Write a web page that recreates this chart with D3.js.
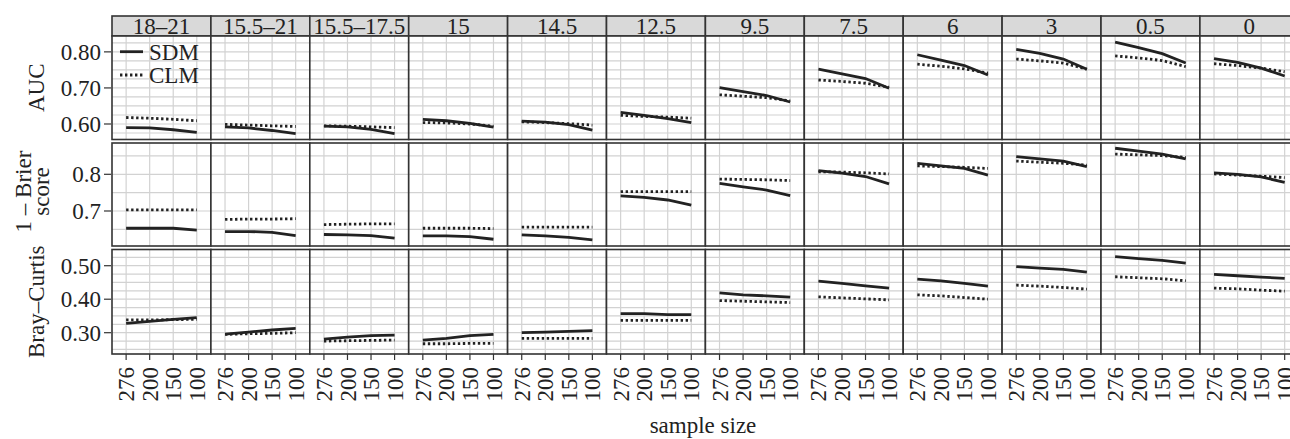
<!DOCTYPE html>
<html>
<head>
<meta charset="utf-8">
<script src="https://cdn.jsdelivr.net/npm/d3@7"></script>
<style>
body { margin: 0; background: #fff; }
svg { display: block; font-family: "Liberation Serif", "DejaVu Serif", serif; }
</style>
</head>
<body>
<div id="main_div"></div>
<script>
var facets = ["18\u201321", "15.5\u201321", "15.5\u201317.5", "15", "14.5", "12.5", "9.5", "7.5", "6", "3", "0.5", "0"];
var sizes = ["276", "200", "150", "100"];
var models = ["SDM", "CLM"];

var auc_sdm = [
    [0.590, 0.589, 0.584, 0.577], [0.592, 0.589, 0.582, 0.573], [0.594, 0.592, 0.585, 0.573],
    [0.613, 0.609, 0.602, 0.591], [0.608, 0.605, 0.598, 0.583], [0.632, 0.624, 0.615, 0.604],
    [0.701, 0.690, 0.679, 0.661], [0.752, 0.739, 0.726, 0.699], [0.792, 0.777, 0.762, 0.736],
    [0.807, 0.796, 0.780, 0.752], [0.827, 0.812, 0.795, 0.769], [0.781, 0.771, 0.755, 0.733]
];
var auc_clm = [
    [0.618, 0.616, 0.613, 0.609], [0.599, 0.597, 0.595, 0.593], [0.595, 0.594, 0.592, 0.590],
    [0.604, 0.603, 0.600, 0.594], [0.606, 0.604, 0.601, 0.597], [0.624, 0.621, 0.619, 0.616],
    [0.681, 0.677, 0.673, 0.664], [0.722, 0.718, 0.713, 0.702], [0.766, 0.760, 0.753, 0.741],
    [0.780, 0.775, 0.769, 0.752], [0.789, 0.783, 0.776, 0.759], [0.767, 0.762, 0.755, 0.745]
];
var brier_sdm = [
    [0.653, 0.653, 0.653, 0.648], [0.644, 0.644, 0.642, 0.633], [0.636, 0.635, 0.633, 0.626],
    [0.632, 0.632, 0.630, 0.623], [0.635, 0.632, 0.628, 0.621], [0.741, 0.737, 0.730, 0.716],
    [0.775, 0.766, 0.757, 0.742], [0.810, 0.803, 0.794, 0.774], [0.830, 0.823, 0.816, 0.798],
    [0.848, 0.842, 0.836, 0.821], [0.871, 0.863, 0.855, 0.842], [0.804, 0.800, 0.793, 0.778]
];
var brier_clm = [
    [0.703, 0.703, 0.703, 0.703], [0.677, 0.678, 0.678, 0.679], [0.663, 0.664, 0.665, 0.665],
    [0.653, 0.653, 0.653, 0.652], [0.656, 0.656, 0.656, 0.656], [0.753, 0.753, 0.753, 0.753],
    [0.787, 0.786, 0.785, 0.783], [0.807, 0.806, 0.804, 0.801], [0.823, 0.821, 0.819, 0.816],
    [0.836, 0.833, 0.830, 0.825], [0.855, 0.853, 0.851, 0.846], [0.801, 0.798, 0.795, 0.791]
];
var bray_sdm = [
    [0.328, 0.334, 0.340, 0.345], [0.296, 0.302, 0.308, 0.313], [0.281, 0.287, 0.291, 0.293],
    [0.278, 0.283, 0.291, 0.295], [0.300, 0.302, 0.304, 0.306], [0.357, 0.357, 0.354, 0.354],
    [0.419, 0.413, 0.410, 0.406], [0.454, 0.447, 0.440, 0.433], [0.460, 0.455, 0.447, 0.439],
    [0.497, 0.493, 0.489, 0.481], [0.527, 0.521, 0.516, 0.508], [0.474, 0.470, 0.466, 0.462]
];
var bray_clm = [
    [0.338, 0.338, 0.339, 0.340], [0.295, 0.297, 0.298, 0.300], [0.275, 0.276, 0.277, 0.278],
    [0.267, 0.267, 0.268, 0.268], [0.283, 0.283, 0.283, 0.283], [0.337, 0.337, 0.337, 0.337],
    [0.396, 0.394, 0.392, 0.390], [0.407, 0.404, 0.401, 0.398], [0.413, 0.410, 0.405, 0.400],
    [0.442, 0.439, 0.435, 0.430], [0.467, 0.464, 0.461, 0.455], [0.433, 0.431, 0.427, 0.424]
];

var auc_ticks = [0.60, 0.70, 0.80];
var brier_ticks = [0.7, 0.8];
var bray_ticks = [0.30, 0.40, 0.50];

var rows = [
    {title: ["AUC"], sdm: auc_sdm, clm: auc_clm, domain: [0.557, 0.844], top: 36, bottom: 139.5,
     ticks: auc_ticks, fmt: d3.format(".2f"), grid: 0.025},
    {title: ["1 \u2013 Brier", "score"], sdm: brier_sdm, clm: brier_clm, domain: [0.6046, 0.8853], top: 143, bottom: 246,
     ticks: brier_ticks, fmt: d3.format(".1f"), grid: 0.05},
    {title: ["Bray\u2013Curtis"], sdm: bray_sdm, clm: bray_clm, domain: [0.2364, 0.5484], top: 249.5, bottom: 354,
     ticks: bray_ticks, fmt: d3.format(".2f"), grid: 0.025}
];

var W = 1290, H = 439;
var ink = "#222";
var fs = 23;
var svg = d3.select("#main_div").append("svg").attr("width", W).attr("height", H);

var x_panel = d3.scaleBand().domain(facets).range([112, 112 + 12 * 98.9]).paddingInner(0);
var x_inner = d3.scalePoint().domain(sizes).range([0, x_panel.bandwidth()]).padding(0.6);

// strips
var strip = svg.append("g").selectAll("g").data(facets).enter().append("g")
    .attr("transform", function(d) { return "translate(" + x_panel(d) + ",16)"; });
strip.append("rect").attr("width", x_panel.bandwidth()).attr("height", 20)
    .attr("fill", "#d9d9d9").attr("stroke", "#333").attr("stroke-width", 1.6);
strip.append("text").attr("x", x_panel.bandwidth() / 2).attr("y", 17.5)
    .attr("text-anchor", "middle").attr("font-size", fs).attr("fill", ink)
    .text(function(d) { return d; });

rows.forEach(function(row) {
    var y_scale = d3.scaleLinear().domain(row.domain).range([row.bottom, row.top]);
    var grid_vals = d3.range(Math.ceil(row.domain[0] / row.grid), Math.floor(row.domain[1] / row.grid) + 1)
        .map(function(k) { return k * row.grid; });

    var panel = svg.append("g").selectAll("g").data(facets).enter().append("g")
        .attr("transform", function(d) { return "translate(" + x_panel(d) + ",0)"; });

    panel.append("rect").attr("y", row.top).attr("width", x_panel.bandwidth())
        .attr("height", row.bottom - row.top).attr("fill", "#fff");

    panel.selectAll(".hgrid").data(grid_vals).enter().append("line")
        .attr("x1", 0).attr("x2", x_panel.bandwidth())
        .attr("y1", function(d) { return y_scale(d); }).attr("y2", function(d) { return y_scale(d); })
        .attr("stroke", "#d2d2d2").attr("stroke-width", 1.2);
    panel.selectAll(".vgrid").data(sizes).enter().append("line")
        .attr("x1", function(d) { return x_inner(d); }).attr("x2", function(d) { return x_inner(d); })
        .attr("y1", row.top).attr("y2", row.bottom)
        .attr("stroke", "#d2d2d2").attr("stroke-width", 1.2);

    var line = d3.line()
        .x(function(d, i) { return x_inner(sizes[i]); })
        .y(function(d) { return y_scale(d); });

    panel.append("path").attr("d", function(d, i) { return line(row.clm[i]); })
        .attr("fill", "none").attr("stroke", ink).attr("stroke-width", 2.8)
        .attr("stroke-dasharray", "2.4,2.6");
    panel.append("path").attr("d", function(d, i) { return line(row.sdm[i]); })
        .attr("fill", "none").attr("stroke", ink).attr("stroke-width", 2.8);

    panel.append("rect").attr("y", row.top).attr("width", x_panel.bandwidth())
        .attr("height", row.bottom - row.top).attr("fill", "none")
        .attr("stroke", "#333").attr("stroke-width", 1.6);

    // y axis
    var g_y = svg.append("g");
    g_y.selectAll("line").data(row.ticks).enter().append("line")
        .attr("x1", 104).attr("x2", 111)
        .attr("y1", function(d) { return y_scale(d); }).attr("y2", function(d) { return y_scale(d); })
        .attr("stroke", "#333").attr("stroke-width", 1.2);
    g_y.selectAll("text").data(row.ticks).enter().append("text")
        .attr("x", 101).attr("y", function(d) { return y_scale(d); }).attr("dy", "0.34em")
        .attr("text-anchor", "end").attr("font-size", fs).attr("fill", ink)
        .text(row.fmt);

    var mid = (row.top + row.bottom) / 2;
    var lines = row.title;
    var xs = lines.length === 1 ? [37] : [24, 42];
    lines.forEach(function(t, i) {
        svg.append("text")
            .attr("transform", "translate(" + (xs[i] + 7) + "," + (lines.length === 1 ? mid : mid - 3) + ") rotate(-90)")
            .attr("text-anchor", "middle").attr("font-size", fs).attr("fill", ink)
            .text(t);
    });
});

// x axis under the bottom row
var bottom = rows[2].bottom;
var xt = svg.append("g").selectAll("g").data(facets).enter().append("g")
    .attr("transform", function(d) { return "translate(" + x_panel(d) + ",0)"; });
xt.selectAll("line").data(sizes).enter().append("line")
    .attr("x1", function(d) { return x_inner(d); }).attr("x2", function(d) { return x_inner(d); })
    .attr("y1", bottom).attr("y2", bottom + 6)
    .attr("stroke", "#333").attr("stroke-width", 1.2);
xt.selectAll("text").data(sizes).enter().append("text")
    .attr("transform", function(d) { return "translate(" + x_inner(d) + "," + (bottom + 13) + ") rotate(-90)"; })
    .attr("dy", "0.35em").attr("text-anchor", "end").attr("font-size", fs).attr("fill", ink)
    .text(function(d) { return d; });

svg.append("text").attr("x", 703).attr("y", 433).attr("text-anchor", "middle")
    .attr("font-size", fs).attr("fill", ink).text("sample size");

// legend inside first AUC panel
var leg = svg.append("g");
var leg_y = [51.7, 75];
models.forEach(function(m, i) {
    leg.append("line").attr("x1", 120).attr("x2", 143).attr("y1", leg_y[i]).attr("y2", leg_y[i])
        .attr("stroke", ink).attr("stroke-width", 2.8)
        .attr("stroke-dasharray", m === "CLM" ? "2.4,2.6" : null);
    leg.append("text").attr("x", 149).attr("y", leg_y[i]).attr("dy", "0.34em")
        .attr("font-size", fs).attr("fill", ink).text(m);
});
</script>
</body>
</html>
